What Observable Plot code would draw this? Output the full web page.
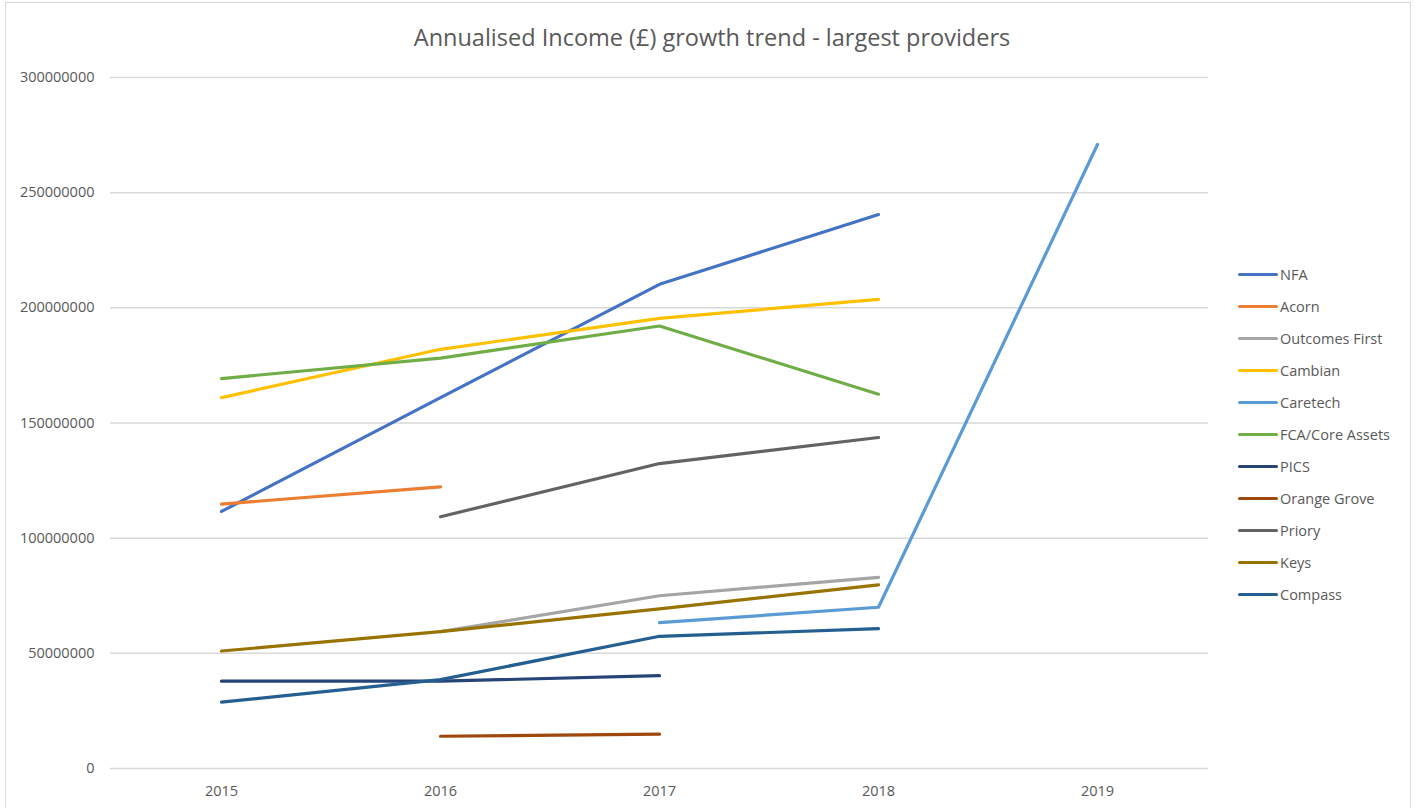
<!DOCTYPE html>
<html>
<head>
<meta charset="utf-8">
<script src="https://cdn.jsdelivr.net/npm/d3@7"></script>
<script src="https://cdn.jsdelivr.net/npm/@observablehq/plot@0.6"></script>
<style>
  html, body { margin: 0; padding: 0; background: #fff; }
  #wrap { position: relative; width: 1416px; height: 808px; overflow: hidden; font-family: "Open Sans", sans-serif; color: #595959; }
  #border { position: absolute; left: 5px; top: 2px; width: 1406px; height: 900px; border: 1px solid #d9d9d9; box-sizing: border-box; }
  #title { position: absolute; left: 4px; top: 21px; width: 1416px; text-align: center; font-size: 23.5px; line-height: 32px; color: #595959; }
  #chart { position: absolute; left: 0; top: 0; }
  #legend { position: absolute; left: 1238px; top: 258px; }
  .item { height: 32px; display: flex; align-items: center; font-size: 14.5px; }
  .swatch { width: 40px; height: 3px; border-radius: 2px; margin-right: 2px; }
</style>
</head>
<body>
<div id="wrap">
  <div id="border"></div>
  <div id="chart"></div>
  <div id="title">Annualised Income (£) growth trend - largest providers</div>
  <div id="legend"></div>
</div>
<script>
const years = ["2015", "2016", "2017", "2018", "2019"];
const seriesNames = ["NFA", "Acorn", "Outcomes First", "Cambian", "Caretech", "FCA/Core Assets", "PICS", "Orange Grove", "Priory", "Keys", "Compass"];
const seriesColors = ["#4472C4", "#ED7D31", "#A5A5A5", "#FFC000", "#5B9BD5", "#70AD47", "#264478", "#9E480E", "#636363", "#997300", "#255E91"];
const yTicks = [0, 50000000, 100000000, 150000000, 200000000, 250000000, 300000000];

const nfa           = [111600000, 161000000, 210200000, 240500000, null];
const acorn         = [114800000, 122300000, null, null, null];
const outcomesFirst = [null, 59400000, 75000000, 83000000, null];
const cambian       = [161000000, 182000000, 195400000, 203700000, null];
const caretech      = [null, null, 63300000, 70000000, 270900000];
const fcaCoreAssets = [169300000, 178200000, 192100000, 162500000, null];
const pics          = [37900000, 37900000, 40300000, null, null];
const orangeGrove   = [null, 14000000, 14900000, null, null];
const priory        = [null, 109300000, 132400000, 143700000, null];
const keys          = [51000000, 59400000, 69300000, 79700000, null];
const compass       = [28800000, 38600000, 57400000, 60700000, null];

const seriesValues = [nfa, acorn, outcomesFirst, cambian, caretech, fcaCoreAssets, pics, orangeGrove, priory, keys, compass];

const rows = [];
seriesNames.forEach((name, i) => {
  seriesValues[i].forEach((v, j) => {
    if (v !== null) rows.push({series: name, year: years[j], value: v});
  });
});

const chart = Plot.plot({
  width: 1416,
  height: 808,
  marginLeft: 110,
  marginRight: 208,
  marginTop: 77,
  marginBottom: 40,
  style: {fontFamily: "Open Sans, sans-serif", fontSize: "14px", color: "#595959", background: "transparent"},
  x: {type: "point", domain: years, padding: 0.5},
  y: {domain: [0, 300000000]},
  color: {domain: seriesNames, range: seriesColors},
  marks: [
    Plot.ruleY(yTicks, {stroke: "#d9d9d9", strokeWidth: 1.5}),
    Plot.axisY({ticks: yTicks, tickSize: 0, tickPadding: 16, tickFormat: d3.format("d"), label: null, fontSize: 14.5}),
    Plot.axisX({tickSize: 0, tickPadding: 17, label: null, fontSize: 14.5}),
    Plot.line(rows, {x: "year", y: "value", z: "series", stroke: "series", strokeWidth: 3.2, strokeLinecap: "round", strokeLinejoin: "round"})
  ]
});
document.getElementById("chart").appendChild(chart);

const legend = document.getElementById("legend");
seriesNames.forEach((name, i) => {
  const item = document.createElement("div");
  item.className = "item";
  const sw = document.createElement("div");
  sw.className = "swatch";
  sw.style.background = seriesColors[i];
  const label = document.createElement("span");
  label.textContent = name;
  item.appendChild(sw);
  item.appendChild(label);
  legend.appendChild(item);
});
</script>
</body>
</html>
